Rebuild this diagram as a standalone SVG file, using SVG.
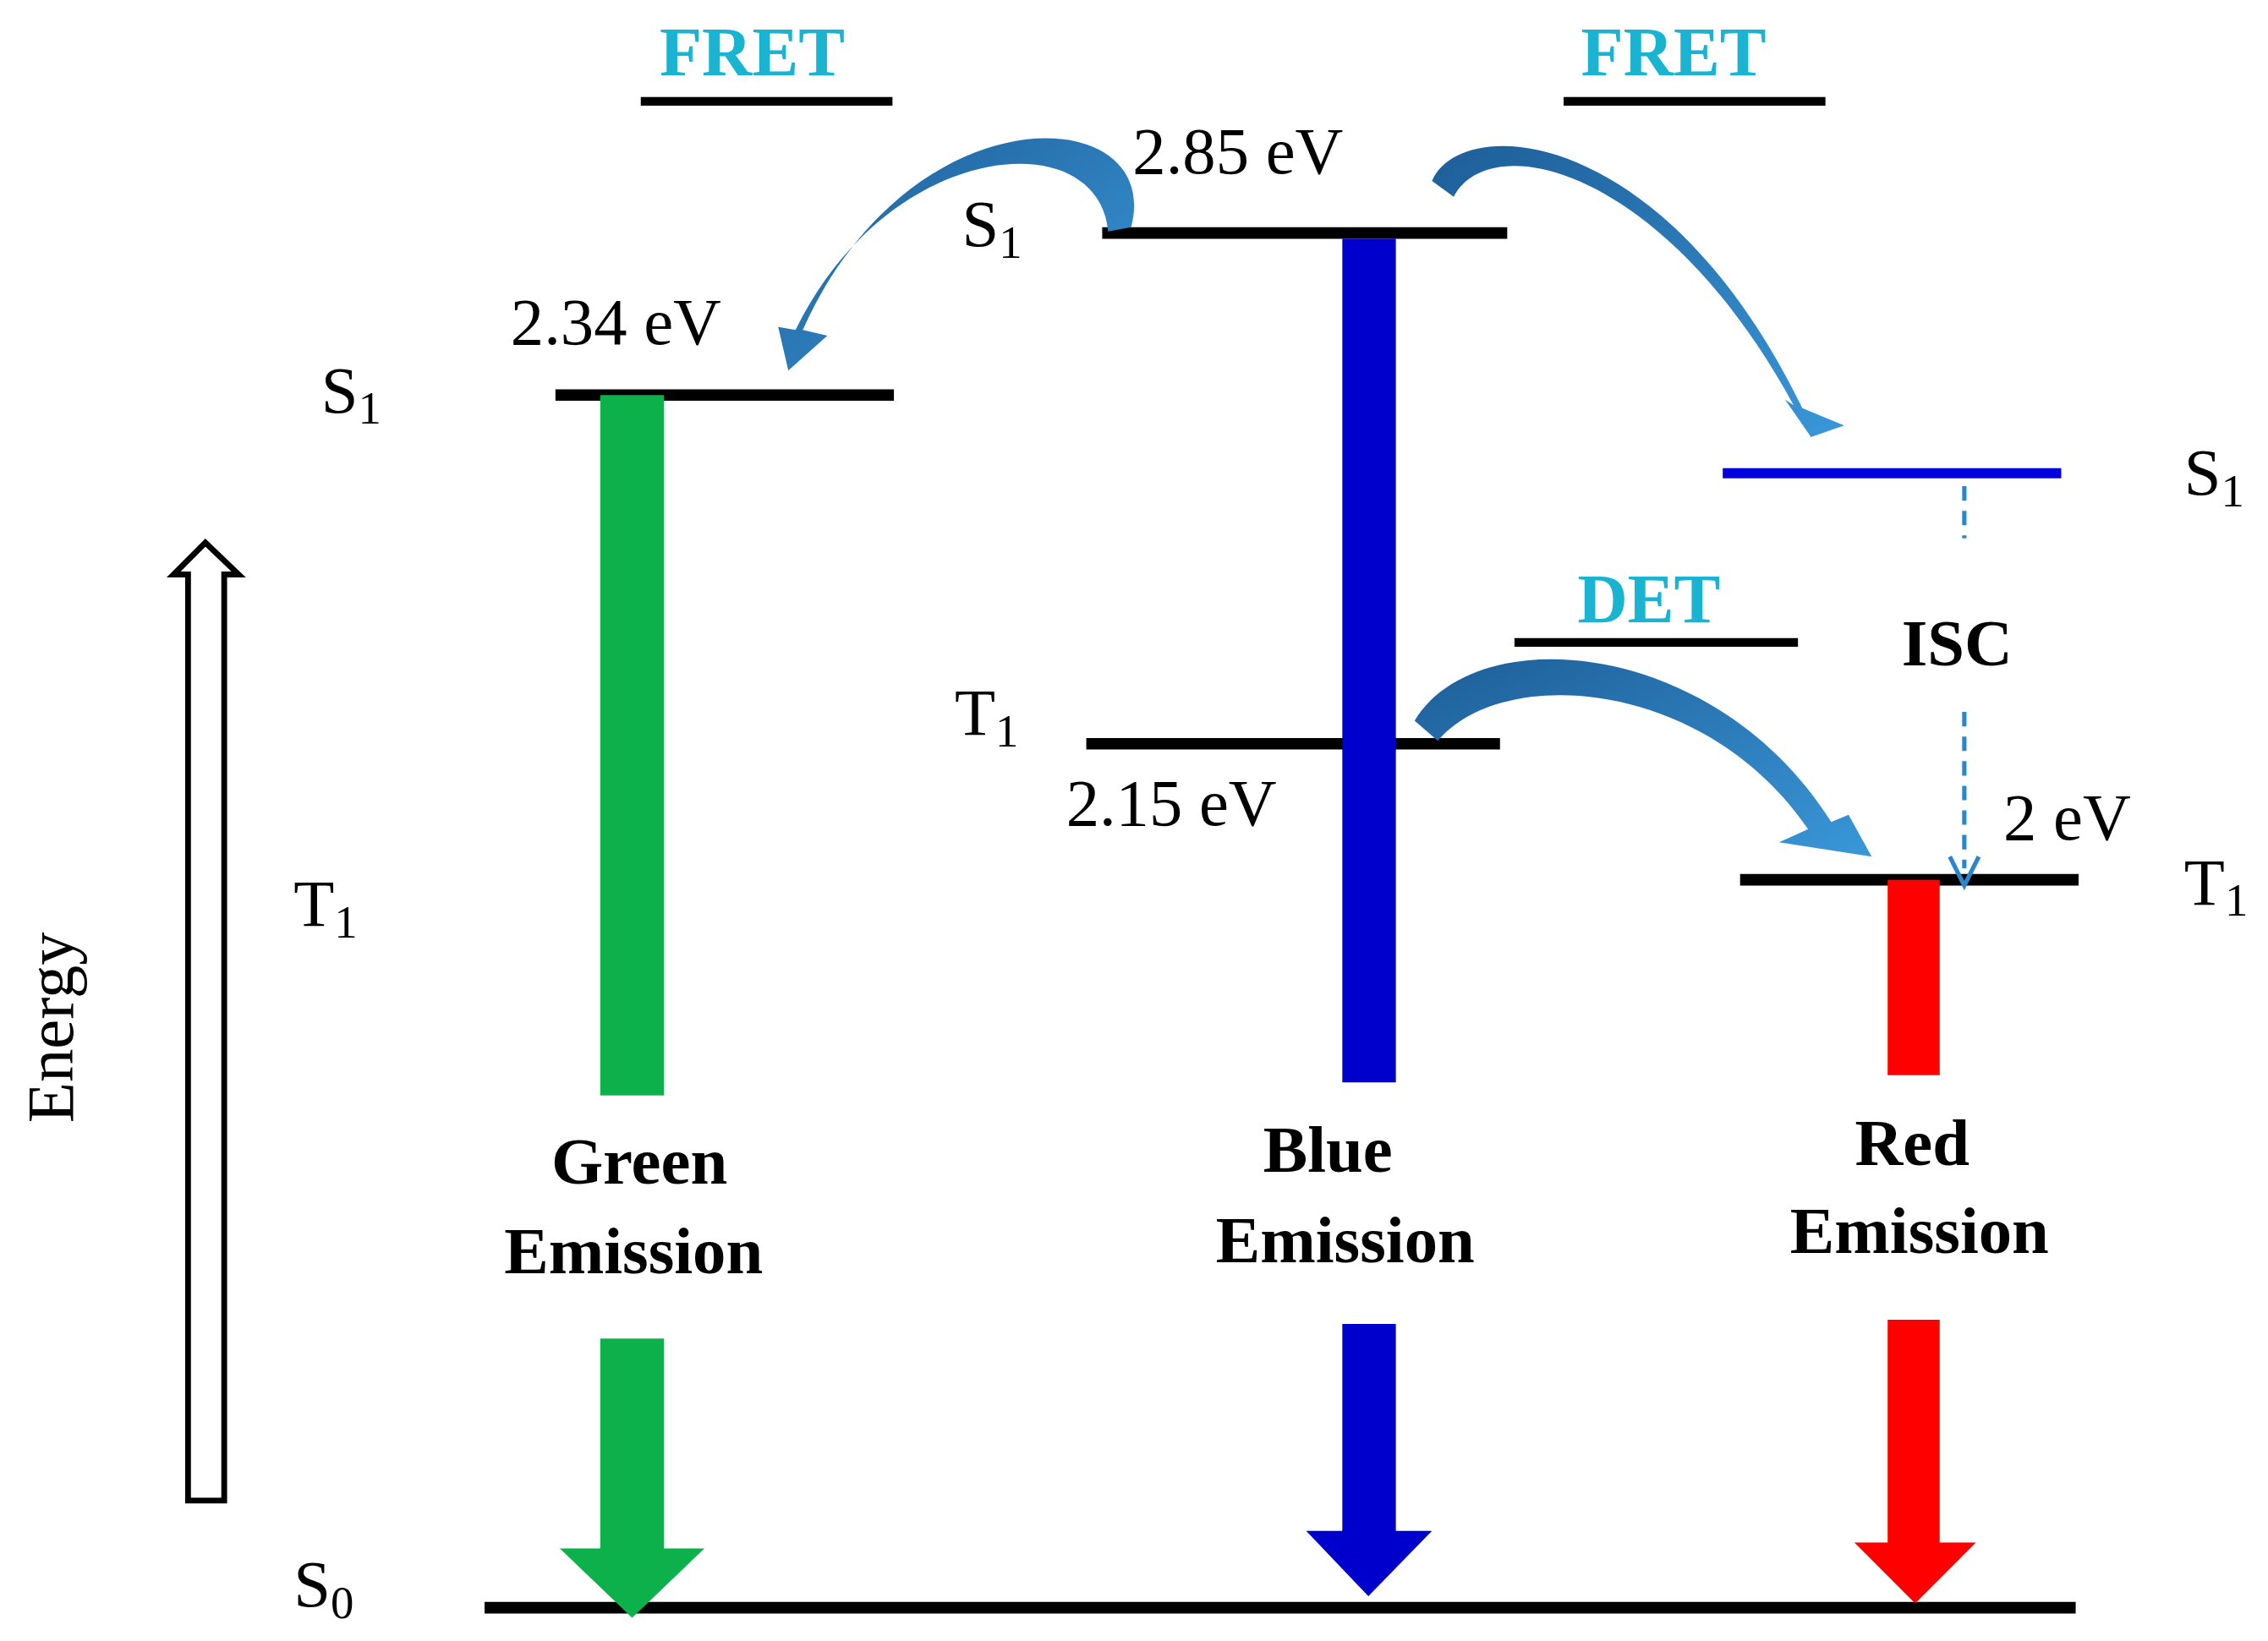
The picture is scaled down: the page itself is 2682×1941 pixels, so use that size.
<svg xmlns="http://www.w3.org/2000/svg" width="2682" height="1941" viewBox="0 0 2682 1941">
<style>
.t{font-family:"Liberation Serif",serif;font-size:46px;fill:#000}
.b{font-family:"Liberation Serif",serif;font-size:46px;font-weight:bold;fill:#000;text-anchor:middle}
.c{font-family:"Liberation Serif",serif;font-size:48px;font-weight:bold;fill:#18b4d2;text-anchor:middle}
.lv{stroke:#000;stroke-width:8}
.ul{stroke:#000;stroke-width:6}
.cv{fill:url(#g)}
</style>
<defs>
<linearGradient id="g" x1="0" y1="0" x2="1" y2="1"><stop offset="0" stop-color="#1d5e98"/><stop offset="1" stop-color="#3a97d8"/></linearGradient>
</defs>
<rect width="2682" height="1941" fill="#fff"/>
<g transform="scale(1.7105,1.7116)">
<g id="energy">
<path d="M130,1037 V397 H120 L142,375 L165,397 H155 V1037 Z" fill="#fff" stroke="#000" stroke-width="4"/>
<text class="t" transform="translate(50,710) rotate(-90)" text-anchor="middle">Energy</text>
</g>
<g id="s0"><line class="lv" x1="335" y1="1111" x2="1435" y2="1111"/><text class="t" x="203" y="1110">S<tspan font-size="32" dy="8">0</tspan></text></g>
<g id="green">
<line class="lv" x1="384" y1="273" x2="618" y2="273"/>
<text class="t" x="222" y="285">S<tspan font-size="32" dy="8">1</tspan></text>
<text class="t" x="353" y="238">2.34 eV</text>
<text class="t" x="203" y="640">T<tspan font-size="32" dy="8">1</tspan></text>
<rect x="415" y="273" width="44" height="484" fill="#0db14b"/>
<text class="b" x="442" y="818">Green</text><text class="b" x="438" y="880">Emission</text>
<path d="M415,925 H459 V1070 H487 L437,1118 L387,1070 H415 Z" fill="#0db14b"/>
</g>
<g id="blue">
<line class="lv" x1="762" y1="161" x2="1042" y2="161"/>
<text class="t" x="665" y="170">S<tspan font-size="32" dy="8">1</tspan></text>
<text class="t" x="783" y="120">2.85 eV</text>
<line class="lv" x1="751" y1="514" x2="1037" y2="514"/>
<text class="t" x="660" y="508">T<tspan font-size="32" dy="8">1</tspan></text>
<text class="t" x="737" y="570">2.15 eV</text>
<rect x="928" y="165" width="37" height="583" fill="#0000cc"/>
<text class="b" x="918" y="810">Blue</text><text class="b" x="930" y="872">Emission</text>
<path d="M928,915 H965 V1058 H990 L946,1103 L903,1058 H928 Z" fill="#0000cc"/>
</g>
<g id="red">
<line x1="1191" y1="327" x2="1425" y2="327" stroke="#0000dd" stroke-width="7"/>
<text class="t" x="1510" y="342">S<tspan font-size="32" dy="8">1</tspan></text>
<line class="lv" x1="1203" y1="608" x2="1437" y2="608"/>
<text class="t" x="1510" y="625">T<tspan font-size="32" dy="8">1</tspan></text>
<text class="t" x="1385" y="580">2 eV</text>
<rect x="1305" y="608" width="36" height="135" fill="#ff0000"/>
<text class="b" x="1322" y="805">Red</text><text class="b" x="1327" y="866">Emission</text>
<path d="M1305,912 H1341 V1066 H1366 L1324,1108 L1282,1066 H1305 Z" fill="#ff0000"/>
</g>
<g id="labels">
<text class="c" x="520" y="52">FRET</text><line class="ul" x1="443" y1="70" x2="617" y2="70"/>
<text class="c" x="1157" y="52">FRET</text><line class="ul" x1="1081" y1="70" x2="1262" y2="70"/>
<text class="c" x="1140" y="430">DET</text><line class="ul" x1="1047" y1="444" x2="1243" y2="444"/>
<text class="b" x="1353" y="460">ISC</text>
</g>
<g id="connectors">
<path class="cv" d="M782,157 C805,70 630,60 555,228 L572,232 L545,256 L538,226 L550,228 C615,95 760,85 766,160 Z"/>
<path class="cv" d="M990,125 C1010,78 1150,85 1246,282 L1275,294 L1252,302 L1234,276 L1240,280 C1150,115 1030,88 1005,136 Z"/>
<path class="cv" d="M978,498 C1020,428 1185,440 1266,568 L1278,563 L1294,592 L1230,582 L1250,573 C1180,470 1040,458 994,512 Z"/>
<g stroke="#2d86cc" stroke-width="3" stroke-dasharray="10,7" fill="none">
<line x1="1358" y1="336" x2="1358" y2="372"/>
<line x1="1358" y1="492" x2="1358" y2="600"/>
</g>
<path d="M1348,592 L1358,612 L1368,592" fill="none" stroke="#2d86cc" stroke-width="3"/>
</g>
</g>
</svg>
